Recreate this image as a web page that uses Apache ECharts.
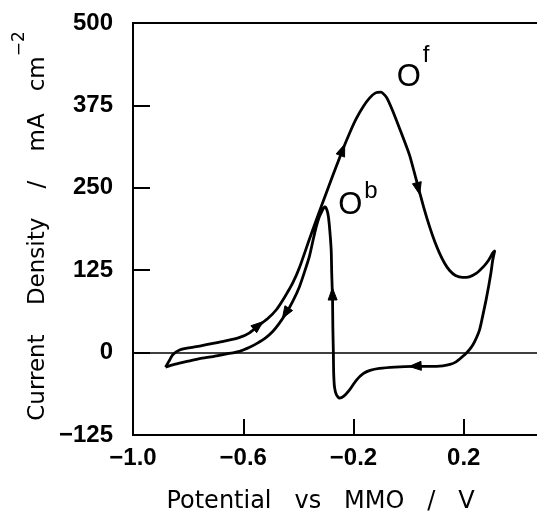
<!DOCTYPE html>
<html>
<head>
<meta charset="utf-8">
<script src="https://cdn.jsdelivr.net/npm/echarts@6/dist/echarts.min.js"></script>
<style>html,body{margin:0;padding:0;background:#fff}#c{width:537px;height:516px}</style>
</head>
<body>
<div id="c"></div>
<script>
// Cyclic voltammogram: potential (V vs MMO) and current density (mA cm^-2), in scan order
var potential = [
  -0.882,-0.868,-0.855,-0.831,-0.800,-0.758,-0.710,-0.660,-0.613,-0.577,-0.541,-0.510,-0.480,-0.450,-0.420,-0.396,
  -0.360,-0.323,-0.290,-0.263,-0.239,-0.210,-0.190,-0.165,-0.142,-0.120,-0.100,-0.080,-0.058,-0.030,0.003,0.033,
  0.055,0.076,0.095,0.112,0.130,0.148,0.170,0.196,0.220,0.245,0.275,0.290,0.305,0.312,
  0.305,0.299,0.290,0.281,0.270,0.257,0.240,0.227,0.209,0.190,0.172,0.150,0.124,0.080,0.015,-0.050,-0.106,
  -0.140,-0.165,-0.190,-0.215,-0.235,-0.251,-0.262,-0.269,-0.272,-0.273,-0.275,-0.276,-0.279,-0.281,-0.288,
  -0.293,-0.300,-0.305,-0.315,-0.325,-0.335,-0.347,-0.360,-0.378,-0.396,-0.420,-0.444,-0.470,-0.493,-0.520,
  -0.550,-0.577,-0.613,-0.660,-0.710,-0.758,-0.800,-0.831,-0.860,-0.882
];
var current = [
  -22,-12,-3,4,7,10,14,18,23,30,42,52,65,84,106,129,
  172,215,252,282,308,337,355,373,386,394,395,387,367,337,300,254,
  220,191,168,151,136,125,117,114,115,120,132,140,151,154,
  140,122,100,80,58,34,17,8,-1,-8,-14,-18,-20,-21,-21,-22,-24,
  -27,-32,-42,-57,-66,-69,-64,-52,-30,-1,40,80,120,156,195,
  211,220,221,214,205,191,170,146,122,100,78,60,44,32,22,
  14,8,2,-2,-6,-9,-13,-16,-19,-22
];
// Direction arrows along the trace: [tailV, tailI, headV, headI]
var arrows = [
  [-0.575, 31, -0.528, 47],
  [-0.425, 74, -0.458, 52],
  [-0.256, 290, -0.232, 316],
  [0.020, 275, 0.040, 240],
  [-0.275, 60, -0.2765, 98],
  [0.050, -20, 0.002, -21]
];
// Peak labels: text, superscript, anchor (V, mA cm^-2)
var peakNames = ['O', 'O'];
var peakSups = ['f', 'b'];
var peakV = [0.016, -0.184];
var peakI = [418, 223];

var xTicks = {min: -1.0, max: 0.6, step: 0.4};
var yTicks = {min: -125, max: 500, step: 125};

var curve = potential.map(function (v, i) { return [v, current[i]]; });
var peakData = peakV.map(function (v, i) { return [v, peakI[i], i]; });
function minus(s) { return s.replace('-', '\u2212'); }

var supRaise = {f: 68, b: 52};

var chart = echarts.init(document.getElementById('c'), null, {renderer: 'canvas'});
var tickFont = {fontFamily: 'Liberation Sans', fontWeight: 'bold', fontSize: 24, color: '#000'};
var titleFont = {fontFamily: 'DejaVu Sans', fontWeight: 'normal', fontSize: 24, color: '#000'};

chart.setOption({
  animation: false,
  backgroundColor: '#fff',
  grid: {left: 133, right: -37, top: 23, bottom: 81, show: true, borderColor: '#000', borderWidth: 2,
         containLabel: false, outerBoundsMode: 'none'},
  xAxis: {
    type: 'value', min: xTicks.min, max: xTicks.max, interval: xTicks.step,
    axisLine: {show: true, onZero: false, lineStyle: {color: '#000', width: 2}},
    axisTick: {show: true, inside: true, length: 16, lineStyle: {color: '#000', width: 2}},
    splitLine: {show: false},
    axisLabel: Object.assign({margin: 11, formatter: function (v) { return minus(v.toFixed(1)); }}, tickFont),
    name: 'Potential   vs   MMO   /   V',
    nameLocation: 'middle', nameGap: 55,
    nameTextStyle: Object.assign({padding: [0, 66, 0, 0]}, titleFont)
  },
  yAxis: {
    type: 'value', min: yTicks.min, max: yTicks.max, interval: yTicks.step,
    axisLine: {show: true, onZero: false, lineStyle: {color: '#000', width: 2}},
    axisTick: {show: true, inside: true, length: 17, lineStyle: {color: '#000', width: 2}},
    splitLine: {show: false},
    axisLabel: Object.assign({margin: 20, formatter: function (v) { return minus(String(v)); }}, tickFont),
    name: 'Current    Density    /    mA   cm{sup|\u22122}',
    nameLocation: 'middle', nameGap: 68, nameRotate: 90, nameMoveOverlap: false,
    nameTextStyle: Object.assign({}, titleFont, {
      fontSize: 23,
      lineHeight: 54,
      padding: [0, 0, 0, 6],
      rich: {sup: {fontFamily: 'DejaVu Sans', fontSize: 17, color: '#000', verticalAlign: 'top', lineHeight: 17}}
    })
  },
  series: [
    {
      type: 'line', data: curve, showSymbol: false, smooth: 0.2,
      lineStyle: {color: '#000', width: 2.8, join: 'round'},
      markLine: {
        silent: true, symbol: ['none', 'none'], label: {show: false},
        lineStyle: {color: '#000', width: 1.5, type: 'solid'},
        data: [{yAxis: 0}]
      },
      z: 3
    },
    {
      type: 'custom', data: arrows, z: 4,
      renderItem: function (params, api) {
        var p1 = api.coord([api.value(0), api.value(1)]);
        var p2 = api.coord([api.value(2), api.value(3)]);
        var dx = p2[0] - p1[0], dy = p2[1] - p1[1];
        var len = Math.sqrt(dx * dx + dy * dy) || 1;
        var ux = dx / len, uy = dy / len;
        var L = 12, W = 4.5;
        var bx = p2[0] - ux * L, by = p2[1] - uy * L;
        return {
          type: 'polygon',
          shape: {points: [[p2[0], p2[1]], [bx - uy * W, by + ux * W], [bx + uy * W, by - ux * W]]},
          style: {fill: '#000', stroke: '#000', lineWidth: 1}
        };
      }
    },
    {
      type: 'custom', data: peakData, z: 5,
      renderItem: function (params, api) {
        var p = api.coord([api.value(0), api.value(1)]);
        var k = api.value(2);
        var sup = peakSups[k];
        return {
          type: 'text',
          x: p[0], y: p[1],
          style: {
            text: '{o|' + peakNames[k] + '}{s|' + sup + '}',
            align: 'center', verticalAlign: 'middle', fill: '#000',
            rich: {
              o: {fontFamily: 'Liberation Sans', fontSize: 31, fill: '#000', verticalAlign: 'middle', lineHeight: supRaise[sup]},
              s: {fontFamily: 'Liberation Sans', fontSize: 24, fill: '#000', verticalAlign: 'top', lineHeight: 24, padding: [0, 0, 0, 2]}
            }
          }
        };
      }
    }
  ]
});
</script>
</body>
</html>
